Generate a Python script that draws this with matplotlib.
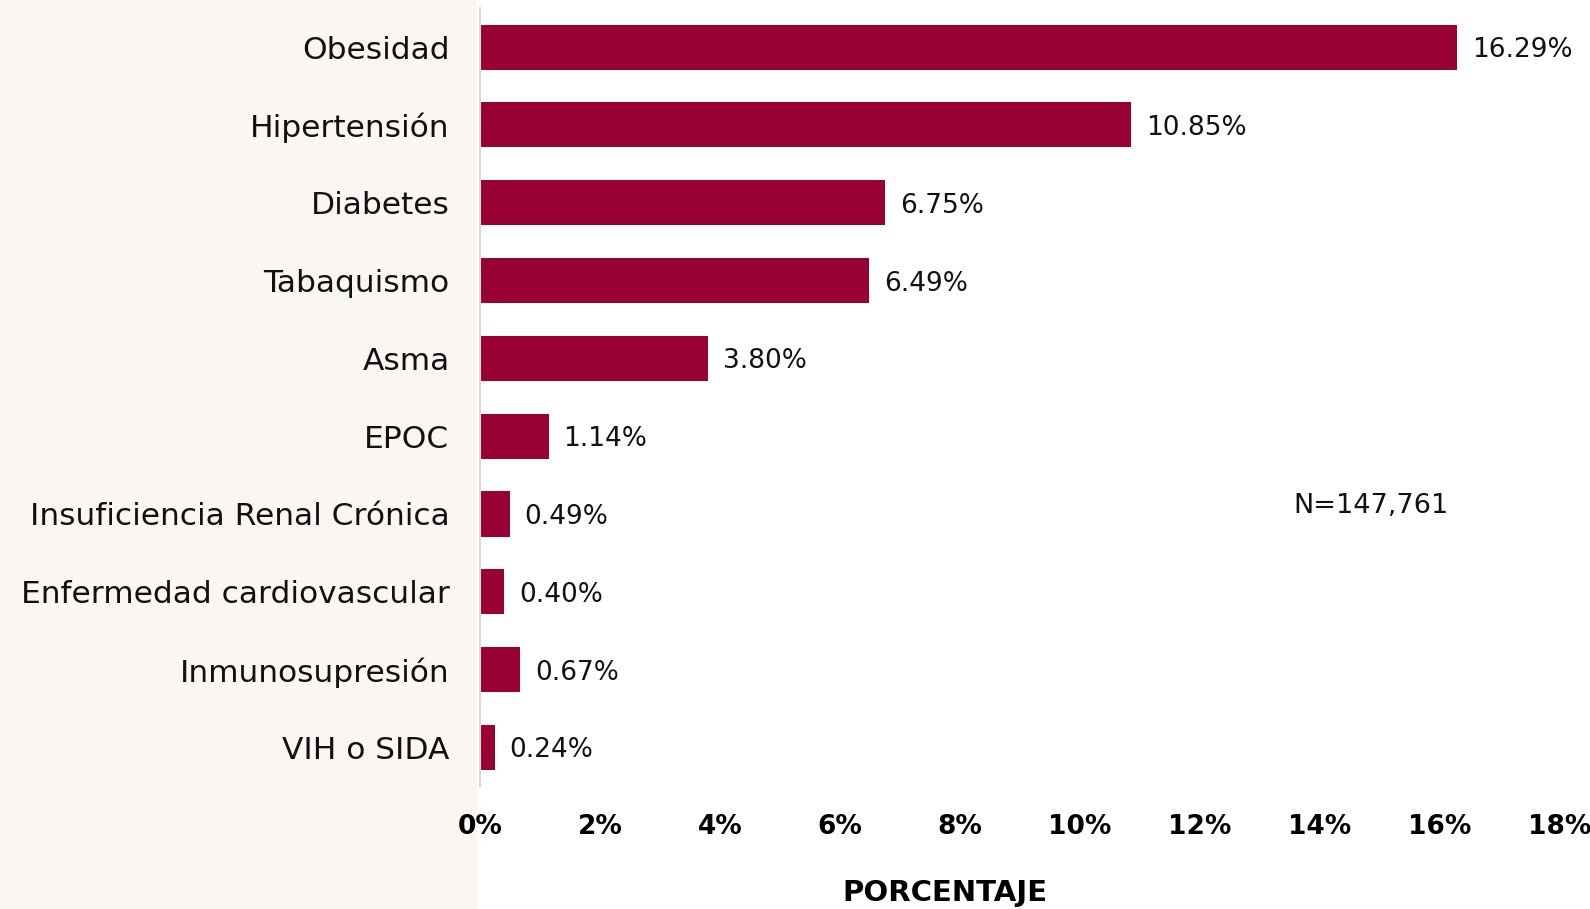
import matplotlib
matplotlib.use("Agg")
import matplotlib.pyplot as plt
from matplotlib.patches import Rectangle

categories = ["Obesidad", "Hipertensión", "Diabetes", "Tabaquismo", "Asma", "EPOC",
              "Insuficiencia Renal Crónica", "Enfermedad cardiovascular",
              "Inmunosupresión", "VIH o SIDA"]
values = [16.29, 10.85, 6.75, 6.49, 3.80, 1.14, 0.49, 0.40, 0.67, 0.24]
xticks = [0, 2, 4, 6, 8, 10, 12, 14, 16, 18]
xtick_labels = [f"{t}%" for t in xticks]
note = "N=147,761"
xlabel = "PORCENTAJE"

plt.rcParams['font.family'] = ['DejaVu Sans']

fig = plt.figure(figsize=(15.9, 9.09), dpi=100)
fig.patch.set_facecolor("white")
# faint decorative background on left
fig.patches.append(Rectangle((0, 0), 0.30, 1, transform=fig.transFigure,
                             facecolor="#FAF7F2", edgecolor="none", zorder=-10))

ax = fig.add_axes([0.302, 0.135, 0.679, 0.856])
ax.set_facecolor("none")
ypos = list(range(len(categories)))
ax.barh(ypos, values, height=0.58, color="#990033")
ax.set_xlim(0, 18)
ax.set_ylim(len(categories) - 0.5, -0.5)
ax.set_yticks(ypos)
ax.set_yticklabels(categories, fontsize=22.5, color="#111111")
ax.set_xticks(xticks)
ax.set_xticklabels(xtick_labels, fontsize=19, fontweight="bold", color="black")
ax.tick_params(axis="both", length=0)
ax.tick_params(axis="y", pad=22)
ax.tick_params(axis="x", pad=20)
for s in ["top", "right", "bottom"]:
    ax.spines[s].set_visible(False)
ax.spines["left"].set_color("#D9D9D9")
ax.spines["left"].set_linewidth(1.5)

for y, v in zip(ypos, values):
    ax.text(v + 0.25, y + 0.04, f"{v:.2f}%", va="center", ha="left", fontsize=19, color="#111111")

fig.text(0.862, 0.443, note, ha="center", va="center", fontsize=19.5, color="#111111")
fig.text(0.594, 0.018, xlabel, ha="center", va="center", fontsize=21, fontweight="bold", color="black")

fig.savefig("out.png", dpi=100)
